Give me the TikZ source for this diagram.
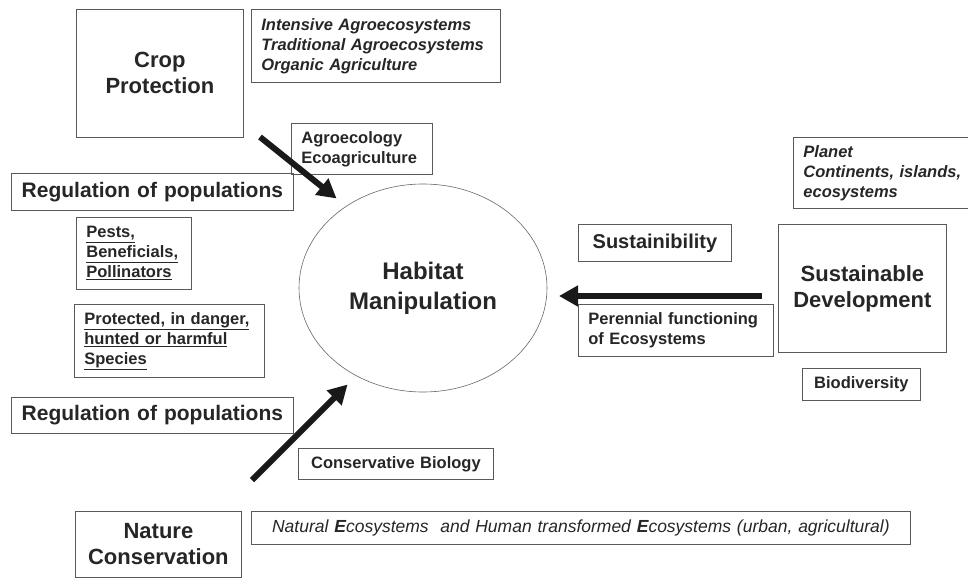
\documentclass[tikz,border=0pt]{standalone}
\usepackage{fontspec}
\setmainfont{Liberation Sans}
\usetikzlibrary{arrows.meta,shapes.geometric}

\begin{document}
\begin{tikzpicture}[x=1pt,y=-1pt,
  box/.style={draw=black!65,line width=.8pt,text=black!85,anchor=north west,inner xsep=10pt,inner ysep=0pt},
  small/.style={font=\fontsize{16.5}{20}\selectfont\bfseries},
  smallit/.style={font=\fontsize{16.5}{20}\selectfont\bfseries\itshape},
  mid/.style={font=\fontsize{21}{25}\selectfont\bfseries},
  big/.style={font=\fontsize{22}{26}\selectfont\bfseries},
  fat/.style={-{Triangle[length=19pt,width=20pt]},line width=6pt,black!90}]

\useasboundingbox (0,0) rectangle (968,578);

% centre
\node[ellipse,draw=black!60,line width=.6pt,minimum width=248pt,minimum height=208pt,
  inner sep=0pt,outer sep=12pt,align=center,text=black!85,
  font=\fontsize{24}{30}\selectfont\bfseries] (hab) at (423,288) {Habitat\\Manipulation};

% crop protection side
\node[box,big,align=center,text width=147pt,minimum height=128pt] (crop) at (76,9) {Crop\\Protection};
\node[box,smallit,align=left,text width=229pt,minimum height=73pt] (agrotypes) at (251,9)
  {Intensive Agroecosystems\\Traditional Agroecosystems\\Organic Agriculture};
\node[box,small,align=left,text width=121pt,minimum height=51pt] (agroeco) at (291,123)
  {Agroecology\\Ecoagriculture};
\node[box,mid,align=center,text width=262pt,minimum height=37pt] (reg1) at (11,173) {Regulation of populations};
\node[box,small,align=left,text width=95pt,minimum height=72pt] (pests) at (76,217)
  {\underline{Pests,}\\\underline{Beneficials,}\\\underline{Pollinators}};

% nature conservation side
\node[box,small,align=left,text width=170pt,minimum height=73pt] (species) at (74,304)
  {\underline{Protected, in danger,}\\\underline{hunted or harmful}\\\underline{Species}};
\node[box,mid,align=center,text width=262pt,minimum height=36pt] (reg2) at (11,397) {Regulation of populations};
\node[box,small,align=center,text width=175pt,minimum height=31pt] (consbio) at (298,448) {Conservative Biology};
\node[box,big,align=center,text width=146pt,minimum height=66pt] (nature) at (75,511) {Nature\\Conservation};
\node[box,align=center,text width=639pt,minimum height=33pt,font=\fontsize{17.5}{20}\selectfont\itshape] (natural) at (251,511)
  {Natural \textbf{E}cosystems\ \ and Human transformed \textbf{E}cosystems (urban, agricultural)};

% sustainable development side
\node[box,align=center,text width=133pt,minimum height=37pt,font=\fontsize{20}{24}\selectfont\bfseries] (sustain) at (578,224) {Sustainibility};
\node[box,small,align=left,text width=175pt,minimum height=52pt] (perennial) at (578,304)
  {Perennial functioning\\of Ecosystems};
\node[box,big,align=center,text width=148pt,minimum height=128pt] (sd) at (778,224) {Sustainable\\Development};
\node[box,small,align=center,text width=98pt,minimum height=32pt] (biodiv) at (802,368) {Biodiversity};
\node[box,smallit,align=left,text width=170pt,minimum height=71pt] (planet) at (793,137)
  {Planet\\Continents, islands,\\ecosystems};

% arrows
\coordinate (cropTail) at (260,137);
\coordinate (natureTail) at (252,480);
\coordinate (sdTail) at (762,296);
\draw[fat] (cropTail) -- (hab.134);
\draw[fat] (natureTail) -- (hab.232);
\draw[fat] (sdTail) -- (hab.east |- sdTail);
\end{tikzpicture}
\end{document}
